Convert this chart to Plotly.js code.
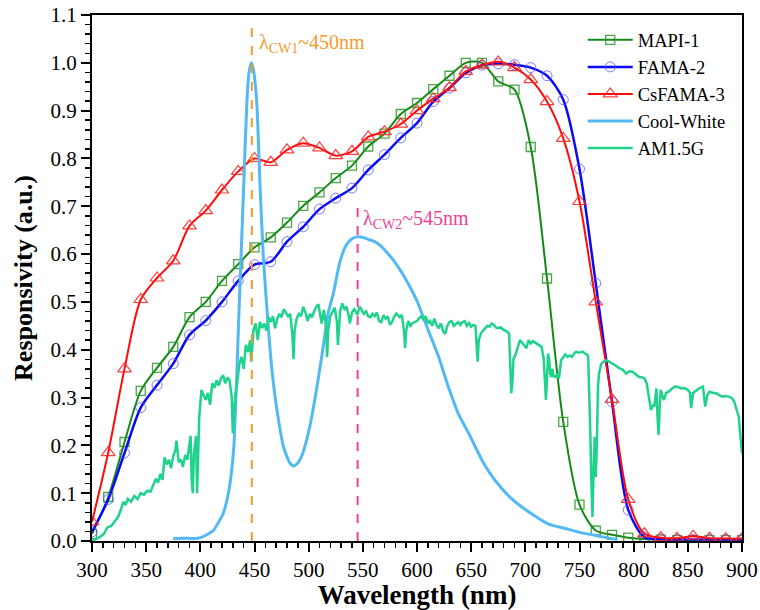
<!DOCTYPE html>
<html>
<head>
<meta charset="utf-8">
<script src="https://cdn.plot.ly/plotly-3.0.1.min.js"></script>
<style>html,body{margin:0;padding:0;background:#fff;}#chart{width:760px;height:610px;}</style>
</head>
<body>
<div id="chart"></div>
<script>
// ---- data ----
const wl15 = [300,315,330,345,360,375,390,405,420,435,450,465,480,495,510,525,540,555,570,585,600,615,630,645,660,675,690,705,720,735,750,765,780,795,810,825,840,855,870,885,900];

const mapi1 = [0.015,0.092,0.207,0.314,0.362,0.406,0.468,0.500,0.544,0.579,0.614,0.635,0.666,0.701,0.729,0.759,0.785,0.825,0.852,0.893,0.916,0.945,0.973,1.000,1.000,0.961,0.944,0.824,0.549,0.249,0.076,0.022,0.013,0.007,0.004,0.003,0.002,0.002,0.002,0.002,0.002];

const fama2 = [0.019,0.087,0.184,0.279,0.326,0.371,0.431,0.461,0.500,0.544,0.578,0.584,0.626,0.657,0.694,0.717,0.738,0.776,0.808,0.843,0.874,0.919,0.947,0.979,0.995,0.998,0.996,0.990,0.973,0.923,0.778,0.539,0.291,0.065,0.008,0.004,0.003,0.003,0.003,0.003,0.003];

const csfama3 = [0.040,0.185,0.360,0.505,0.550,0.586,0.659,0.691,0.734,0.773,0.800,0.792,0.818,0.832,0.822,0.806,0.815,0.845,0.856,0.872,0.900,0.925,0.948,0.982,0.995,1.002,0.990,0.965,0.919,0.842,0.710,0.500,0.296,0.087,0.015,0.007,0.006,0.010,0.006,0.005,0.005];

const cwWl = [375,385,395,400,405,412,417,421,425,428,431,434,436,440,443,445,447,449,452,455,458,461,466,471,477,483,486,490,494,498,502,506,512,518,523,529,535,540,545,550,556,561,566,572,578,585,590,595,600,610,620,629,638,648,660,672,687,703,721,737,750,764,775,785];
const coolWhite = [0.005,0.006,0.005,0.007,0.012,0.022,0.040,0.057,0.090,0.130,0.200,0.370,0.500,0.740,0.920,0.980,1.000,0.985,0.920,0.750,0.600,0.500,0.360,0.270,0.195,0.162,0.157,0.163,0.180,0.210,0.250,0.300,0.385,0.476,0.520,0.585,0.620,0.632,0.636,0.635,0.630,0.626,0.618,0.604,0.588,0.565,0.546,0.525,0.502,0.443,0.385,0.322,0.267,0.224,0.169,0.127,0.089,0.061,0.036,0.026,0.018,0.012,0.007,0.003];

const amWl = [300,303,307,311,314,318,321,324,327,329,331,333,336,339,342,345,348,351,354,357,359,361,363,365,367,369,371,373,375,377,378,380,382,384,386,388,390,391,392,393,394,396,397,399,401,403,405,407,409,411,413,415,417,419,421,423,425,427,429,430,432,434,436,438,440,442,444,446,447,449,451,453,455,457,459,461,463,465,467,469,471,473,475,477,479,481,483,485,486,487,489,491,493,495,497,499,501,503,505,507,509,511,512,514,516,517,518,520,522,524,526,527,529,531,533,535,537,538,540,542,545,547,549,551,553,555,557,559,561,563,565,567,569,571,573,575,577,579,581,584,586,588,589,590,592,594,596,598,600,602,604,606,608,610,612,614,616,618,620,622,624,626,628,630,632,634,636,638,640,642,644,646,648,650,652,654,655,656,657,659,661,663,665,667,669,671,673,675,677,679,681,683,685,686,687,688,689,691,693,695,697,699,701,703,705,707,709,711,713,715,717,718,719,720,721,722,723,724,725,726,728,730,731,733,735,737,739,741,743,745,747,749,751,753,755,757,758,759,760,761,762,763,764,765,766,767,768,770,772,775,778,781,784,787,790,793,796,799,802,805,808,810,812,813,815,816,818,819,820,821,822,823,824,825,827,828,830,832,835,838,841,844,847,850,852,853,855,858,861,864,866,868,870,873,876,879,882,885,888,891,893,895,897,898,899,900];
const am15g = [0.000,0.003,0.008,0.015,0.028,0.032,0.042,0.050,0.068,0.082,0.075,0.088,0.082,0.094,0.088,0.100,0.097,0.105,0.103,0.118,0.130,0.122,0.140,0.128,0.175,0.160,0.170,0.152,0.178,0.190,0.210,0.165,0.170,0.155,0.180,0.170,0.200,0.220,0.130,0.100,0.180,0.220,0.100,0.260,0.316,0.305,0.295,0.310,0.285,0.330,0.320,0.336,0.325,0.340,0.347,0.330,0.342,0.336,0.300,0.225,0.300,0.330,0.370,0.385,0.360,0.410,0.395,0.420,0.375,0.440,0.455,0.420,0.458,0.445,0.455,0.440,0.468,0.458,0.470,0.445,0.465,0.475,0.468,0.485,0.478,0.470,0.475,0.430,0.380,0.440,0.466,0.475,0.470,0.490,0.478,0.460,0.475,0.468,0.480,0.490,0.495,0.470,0.455,0.483,0.450,0.385,0.440,0.470,0.478,0.488,0.460,0.410,0.480,0.497,0.485,0.490,0.470,0.455,0.478,0.485,0.473,0.490,0.483,0.475,0.480,0.470,0.468,0.475,0.470,0.478,0.460,0.458,0.472,0.465,0.470,0.452,0.458,0.470,0.476,0.468,0.473,0.440,0.403,0.440,0.460,0.450,0.456,0.458,0.460,0.466,0.470,0.463,0.470,0.455,0.460,0.450,0.465,0.452,0.445,0.455,0.440,0.433,0.450,0.458,0.460,0.450,0.455,0.458,0.452,0.458,0.460,0.450,0.456,0.448,0.452,0.450,0.410,0.375,0.420,0.434,0.440,0.445,0.450,0.448,0.455,0.452,0.446,0.445,0.447,0.443,0.441,0.438,0.434,0.380,0.309,0.330,0.380,0.390,0.405,0.420,0.415,0.410,0.403,0.420,0.413,0.418,0.415,0.413,0.410,0.406,0.380,0.330,0.295,0.340,0.392,0.380,0.350,0.343,0.360,0.345,0.343,0.350,0.340,0.378,0.385,0.390,0.385,0.388,0.385,0.392,0.396,0.394,0.395,0.396,0.392,0.390,0.385,0.320,0.225,0.120,0.050,0.150,0.218,0.134,0.200,0.320,0.350,0.370,0.375,0.378,0.374,0.371,0.366,0.361,0.358,0.350,0.355,0.354,0.348,0.343,0.342,0.340,0.330,0.316,0.290,0.274,0.285,0.281,0.300,0.319,0.260,0.222,0.280,0.316,0.300,0.295,0.310,0.312,0.318,0.323,0.322,0.319,0.320,0.316,0.310,0.278,0.310,0.316,0.320,0.323,0.281,0.305,0.312,0.310,0.309,0.305,0.302,0.303,0.302,0.298,0.290,0.275,0.260,0.232,0.200,0.183];

const cw1Line = {x: [447.5, 447.5], y: [0, 1.073]};
const cw2Line = {x: [545.2, 545.2], y: [0, 0.70]};
const cw1Label = {x: 452, y: 1.04, text: 'λ<sub>CW1</sub>~450nm'};
const cw2Label = {x: 548, y: 0.672, text: 'λ<sub>CW2</sub>~545nm'};

const serif = '"Liberation Serif", serif';

const traces = [
  {x: wl15, y: mapi1, name: 'MAPI-1', mode: 'lines+markers',
   line: {color: '#168a16', width: 2, shape: 'spline', smoothing: 0.8},
   marker: {symbol: 'square-open', size: 9, color: 'rgba(40,150,40,0.85)', line: {width: 1.3}}},
  {x: wl15, y: fama2, name: 'FAMA-2', mode: 'lines+markers',
   line: {color: '#0a0af5', width: 2.5, shape: 'spline', smoothing: 0.8},
   marker: {symbol: 'circle-open', size: 10, color: 'rgba(80,80,255,0.75)', line: {width: 1}}},
  {x: wl15, y: csfama3, name: 'CsFAMA-3', mode: 'lines+markers',
   line: {color: '#ff0a0a', width: 2, shape: 'spline', smoothing: 0.8},
   marker: {symbol: 'triangle-up-open', size: 12, color: 'rgba(255,40,40,0.9)', line: {width: 1.2}}},
  {x: cwWl, y: coolWhite, name: 'Cool-White', mode: 'lines',
   line: {color: '#52b9f5', width: 3, shape: 'spline', smoothing: 0.6}},
  {x: amWl, y: am15g, name: 'AM1.5G', mode: 'lines',
   line: {color: '#1fd38c', width: 2.5}},
  {x: cw1Line.x, y: cw1Line.y, mode: 'lines', showlegend: false, hoverinfo: 'skip',
   line: {color: '#f39a2e', width: 2, dash: 'dash'}},
  {x: cw2Line.x, y: cw2Line.y, mode: 'lines', showlegend: false, hoverinfo: 'skip',
   line: {color: '#f0409a', width: 2, dash: 'dash'}}
];

const axisCommon = {
  showline: true, linewidth: 2, linecolor: '#000', mirror: true,
  showgrid: false, zeroline: false,
  ticks: 'outside', ticklen: 9, tickwidth: 2, tickcolor: '#000',
  tickfont: {family: serif, size: 21, color: '#000'}
};

const layout = {
  width: 760, height: 610,
  margin: {l: 92, r: 18, t: 15, b: 69},
  paper_bgcolor: '#ffffff', plot_bgcolor: '#ffffff',
  font: {family: serif},
  xaxis: Object.assign({}, axisCommon, {
    range: [300, 900], tick0: 300, dtick: 50,
    minor: {dtick: 10, ticks: 'outside', ticklen: 5, tickwidth: 1.5, tickcolor: '#000'},
    title: {text: '<b>Wavelength (nm)</b>', font: {family: serif, size: 27, color: '#000'}, standoff: 3}
  }),
  yaxis: Object.assign({}, axisCommon, {
    range: [0, 1.1], tick0: 0, dtick: 0.1, tickformat: '.1f',
    minor: {dtick: 0.02, ticks: 'outside', ticklen: 5, tickwidth: 1.5, tickcolor: '#000'},
    title: {text: '<b>Responsivity (a.u.)</b>', font: {family: serif, size: 26, color: '#000'}, standoff: 10}
  }),
  legend: {x: 0.755, y: 0.988, xanchor: 'left', yanchor: 'top',
    font: {family: serif, size: 18.5, color: '#000'}, bgcolor: 'rgba(0,0,0,0)',
    itemwidth: 45, tracegroupgap: 0},
  annotations: [
    {x: cw1Label.x, y: cw1Label.y, xref: 'x', yref: 'y', text: cw1Label.text, showarrow: false,
     xanchor: 'left', yanchor: 'middle', font: {family: serif, size: 20, color: '#f39a2e'}},
    {x: cw2Label.x, y: cw2Label.y, xref: 'x', yref: 'y', text: cw2Label.text, showarrow: false,
     xanchor: 'left', yanchor: 'middle', font: {family: serif, size: 20, color: '#f0409a'}}
  ],
  showlegend: true
};

Plotly.newPlot('chart', traces, layout, {displayModeBar: false, staticPlot: true});
</script>
</body>
</html>
